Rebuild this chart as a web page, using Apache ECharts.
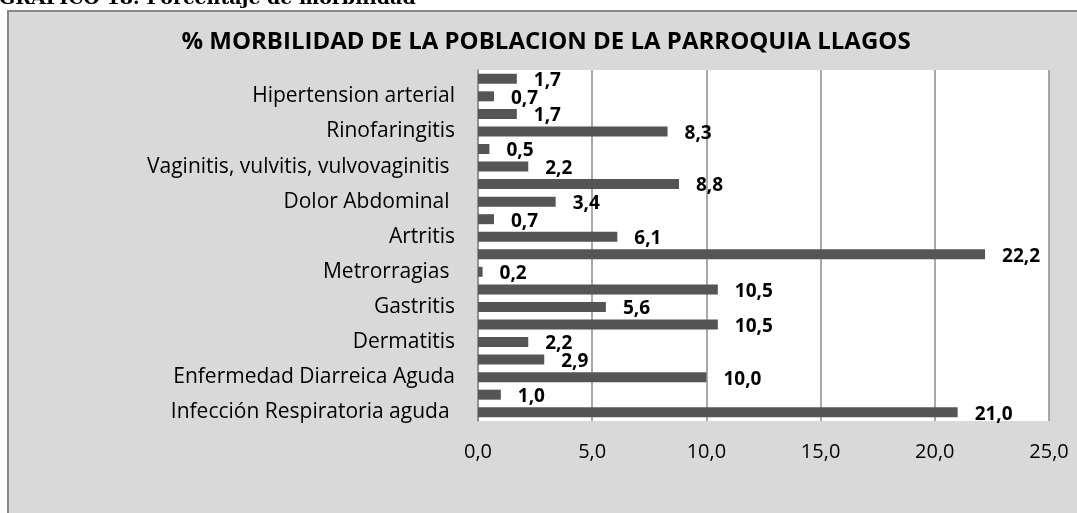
<!DOCTYPE html>
<html>
<head>
<meta charset="utf-8">
<script src="https://cdn.jsdelivr.net/npm/echarts@6/dist/echarts.min.js"></script>
<style>
  html, body { margin: 0; padding: 0; background: #fff; }
  #chart { width: 1077px; height: 513px; }
</style>
</head>
<body>
<div id="chart"></div>
<script>
// categories from bottom to top, every other one has its label hidden in the original
var categories = [
  'Infección Respiratoria aguda ', 'c1', 'Enfermedad Diarreica Aguda', 'c3',
  'Dermatitis', 'c5', 'Gastritis', 'c7', 'Metrorragias ', 'c9',
  'Artritis', 'c11', 'Dolor Abdominal ', 'c13', 'Vaginitis, vulvitis, vulvovaginitis ', 'c15',
  'Rinofaringitis', 'c17', 'Hipertension arterial', 'c19'
];
var values = [21.0, 1.0, 10.0, 2.9, 2.2, 10.5, 5.6, 10.5, 0.2, 22.2,
              6.1, 0.7, 3.4, 8.8, 2.2, 0.5, 8.3, 1.7, 0.7, 1.7];
var xTicks = [0, 5, 10, 15, 20, 25];

var font = '"Open Sans", Lato, sans-serif';

var chart = echarts.init(document.getElementById('chart'), null, { renderer: 'canvas' });

chart.setOption({
  animation: false,
  backgroundColor: '#fff',
  graphic: [
    {
      type: 'rect',
      shape: { x: 8, y: 11, width: 1100, height: 540 },
      style: { fill: '#d9d9d9', stroke: '#888', lineWidth: 2 },
      z: -10
    },
    {
      type: 'text',
      x: -1,
      y: 9,
      style: {
        text: 'GRÁFICO 18: Porcentaje de morbilidad',
        font: 'bold 19px "DejaVu Serif", serif',
        fill: '#000',
        verticalAlign: 'bottom'
      },
      z: -20
    }
  ],
  title: {
    text: '% MORBILIDAD DE LA POBLACION DE LA PARROQUIA LLAGOS',
    left: 541,
    textAlign: 'center',
    top: 25,
    textStyle: { fontFamily: font, fontWeight: 'bold', fontSize: 24, color: '#000' }
  },
  grid: {
    left: 478, right: 28, top: 70, bottom: 92,
    show: true, backgroundColor: '#fff', borderWidth: 0
  },
  xAxis: {
    type: 'value',
    min: 0, max: 25, interval: 5,
    axisLine: { show: false },
    axisTick: { show: false },
    splitLine: { show: true, lineStyle: { color: '#8c8c8c', width: 1.5 } },
    axisLabel: {
      margin: 21,
      fontFamily: font, fontSize: 20, color: '#000',
      formatter: function (v) { return xTicks.indexOf(v) >= 0 ? v.toFixed(1).replace('.', ',') : ''; }
    }
  },
  yAxis: {
    type: 'category',
    data: categories,
    axisLine: { show: true, lineStyle: { color: '#8c8c8c', width: 1.5 } },
    axisTick: { show: false },
    axisLabel: {
      interval: 0,
      margin: 23,
      fontFamily: font, fontSize: 21, color: '#000',
      formatter: function (v) { return /^c\d+$/.test(v) ? '' : v; }
    }
  },
  series: [{
    type: 'bar',
    data: values,
    barWidth: 10,
    itemStyle: { color: '#555555' },
    label: {
      show: true,
      position: 'right',
      distance: 17,
      offset: [0, 2],
      fontFamily: font, fontWeight: 'bold', fontSize: 19, color: '#000',
      formatter: function (p) { return p.value.toFixed(1).replace('.', ','); }
    }
  }]
});
</script>
</body>
</html>
